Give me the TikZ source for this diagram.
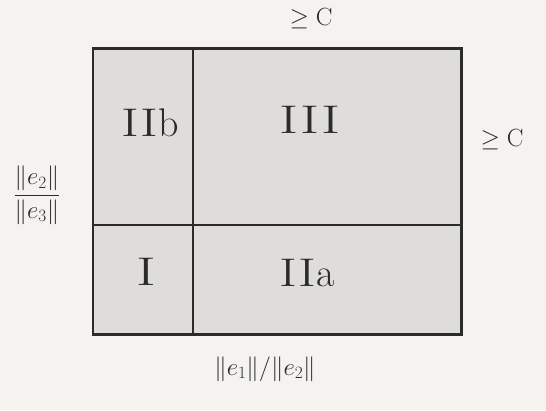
\documentclass[tikz,border=0pt]{standalone}
\usepackage{graphicx}
\definecolor{bg}{HTML}{F4F3EF}
\definecolor{cell}{HTML}{DEDDD9}
\definecolor{ink}{HTML}{2B2B2B}
\begin{document}
\begin{tikzpicture}[x=1pt,y=-1pt,
  cellframe/.style={draw=ink, line width=2.6pt, fill=cell, inner sep=0pt, anchor=north west, minimum width=368.5pt, minimum height=286pt},
  divider/.style={draw=ink, line width=2pt},
  region/.style={text=ink, inner sep=0pt, font=\fontsize{40}{44}\selectfont},
  edge/.style={text=ink, inner sep=0pt, font=\fontsize{24}{28}\selectfont}]
\useasboundingbox[fill=bg] (0,0) rectangle (546,410);
\node[cellframe] (box) at (91.5,47) {};
\coordinate (vtop) at (193,47);
\coordinate (vbot) at (193,333);
\coordinate (hleft) at (91.5,224.5);
\coordinate (hright) at (460,224.5);
\draw[divider] (vtop) -- (vbot);
\draw[divider] (hleft) -- (hright);
\node[region] (r2b) at (150,123) {\scalebox{1.35}[1]{II}b};
\node[region] (r3) at (310,120) {\scalebox{1.45}[1]{III}};
\node[region] (r1) at (146,272) {\scalebox{1.5}[1]{I}};
\node[region] (r2a) at (307,273) {\scalebox{1.35}[1]{II}a};
\node[edge, font=\fontsize{32}{36}\selectfont] (top) at (311,19) {$\geq\mathrm{C}$};
\node[edge] (right) at (502,140) {$\geq\mathrm{C}$};
\node[edge] (left) at (37,195) {$\displaystyle\frac{\|e_2\|}{\|e_3\|}$};
\node[edge] (bottom) at (265,369) {$\|e_1\|/\|e_2\|$};
\end{tikzpicture}
\end{document}
